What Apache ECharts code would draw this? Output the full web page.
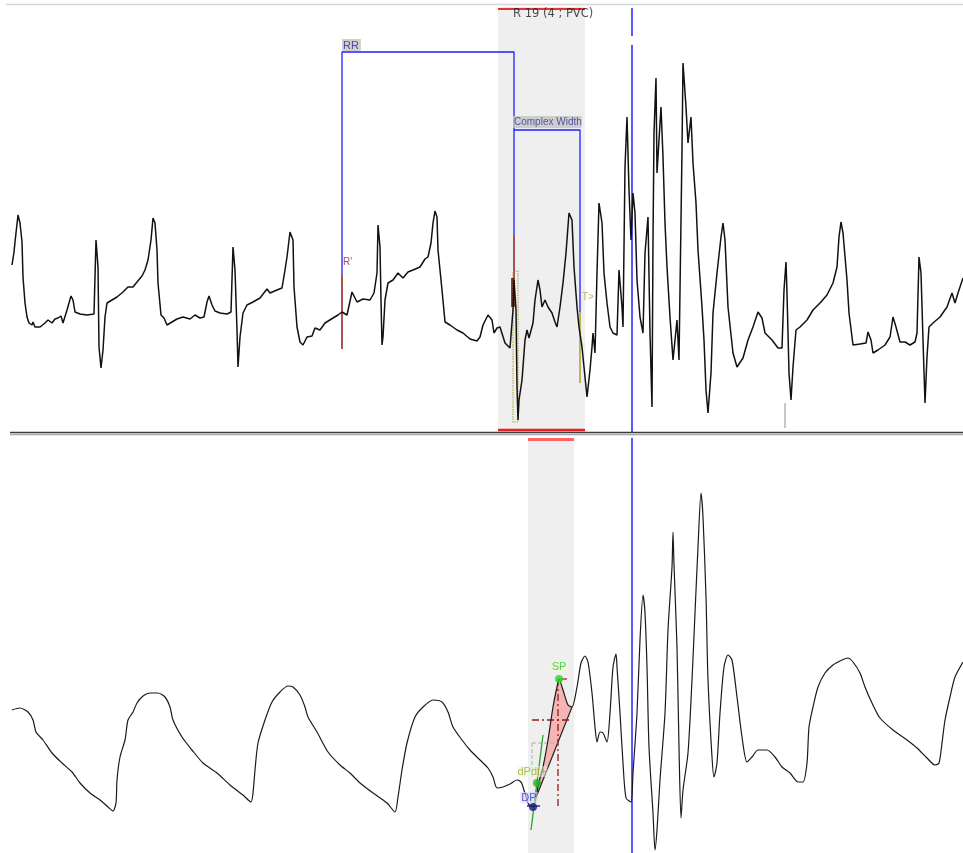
<!DOCTYPE html>
<html><head><meta charset="utf-8">
<script src="https://cdn.jsdelivr.net/npm/echarts@6/dist/echarts.min.js"></script>
<style>html,body{margin:0;padding:0;background:#fff}#c{width:963px;height:853px}</style>
</head><body><div id="c"></div>
<script>
// ---------- DATA ----------
// ECG lead: [sample index, mV]
const ecgTrace = [
[12,0.55],[14,0.68],[15,0.78],[18,1.05],[20,0.97],[22,0.78],[23,0.43],[25,0.17],[27,0.03],[29,-0.03],[32,-0.05],[33,-0.02],[35,-0.07],[37,-0.05],[40,-0.07],[45,-0.03],[48,0],[52,-0.03],[55,0.01],[58,0.02],[61,0.04],[63,-0.03],[67,0.10],[71,0.24],[73,0.20],[75,0.08],[80,0.06],[87,0.05],[94,0.06],
[96,0.80],[98,0.53],[99,-0.27],[101,-0.48],[103,-0.30],[105,0.03],[107,0.17],[112,0.20],[117,0.23],[123,0.28],[128,0.33],[133,0.33],[137,0.38],[142,0.44],[145,0.50],[148,0.60],[151,0.80],[153,1.02],[155,0.97],[157,0.70],[158,0.37],[161,0.05],[164,0.02],[167,-0.05],[172,-0.02],[177,0.01],[183,0.03],[190,0.01],[195,0.05],[200,0.02],[204,0.03],[207,0.18],[209,0.24],[212,0.15],[215,0.09],[220,0.07],[227,0.06],[231,0.08],
[233,0.73],[235,0.50],[237,-0.10],[238,-0.47],[240,-0.17],[243,0.07],[247,0.15],[253,0.18],[260,0.22],[267,0.31],[270,0.27],[277,0.30],[282,0.32],[285,0.50],[287,0.63],[290,0.88],[293,0.80],[294,0.33],[297,-0.07],[300,-0.22],[303,-0.25],[307,-0.17],[312,-0.16],[315,-0.08],[320,-0.10],[325,-0.03],[333,0.02],[338,0.05],[342,0.08],[347,0.05],[352,0.28],[357,0.18],[363,0.21],[370,0.20],[374,0.27],
[377,0.47],[378,0.95],[380,0.73],[381,0.20],[382,-0.25],[383,-0.17],[385,0.20],[388,0.37],[393,0.40],[398,0.47],[403,0.42],[408,0.48],[413,0.50],[420,0.53],[425,0.61],[428,0.63],[431,0.77],[433,0.97],[435,1.09],[437,1.03],[438,0.70],[442,0.30],[445,-0.02],[450,-0.05],[457,-0.10],[463,-0.13],[470,-0.19],[477,-0.21],[480,-0.17],[483,-0.05],[488,0.05],[492,0],[494,-0.13],[497,-0.08],[500,-0.07],[505,-0.23],[510,-0.28],
[513,0.10],[514,0.40],[516,0.10],[517,-0.67],[518,-1.00],[519,-0.80],[522,-0.60],[525,-0.20],[527,-0.10],[529,-0.18],[533,-0.03],[535,0.20],[538,0.40],[540,0.30],[542,0.13],[545,0.20],[548,0.13],[552,0.07],[555,-0.02],[557,-0.07],[560,0.13],[563,0.37],[566,0.67],[569,1.07],[572,1.00],[574,0.53],[577,0.13],[579,-0.07],[582,-0.27],[584,-0.47],[587,-0.77],[590,-0.50],[592,-0.27],[593,-0.13],[595,-0.33],
[597,0.47],[599,1.17],[602,0.97],[604,0.47],[607,0.17],[610,-0.07],[613,-0.13],[617,-0.15],[619,0.50],[622,0.13],[623,-0.07],[625,1.53],[627,2.03],[629,1.30],[631,0.80],[633,1.27],[635,1.07],[637,0.40],[640,0.03],[643,-0.13],[645,0.67],[648,1.03],[650,-0.13],[652,-0.87],[653,0.80],[654,1.87],[656,2.42],[657,1.47],[659,1.80],[661,2.13],[663,1.63],[665,0.97],[667,0.53],[670,0.03],[673,-0.40],[677,0],[679,-0.40],
[682,1.70],[683,2.57],[686,2.13],[688,1.77],[691,2.03],[693,1.57],[696,1.17],[698,0.70],[702,0.13],[704,-0.20],[706,-0.70],[708,-0.93],[711,-0.53],[713,0.07],[717,0.47],[721,0.83],[723,0.97],[725,0.80],[728,0.13],[733,-0.33],[737,-0.47],[743,-0.38],[748,-0.20],[753,-0.07],[758,0.08],[762,0.02],[765,-0.13],[772,-0.20],[778,-0.28],[782,-0.28],
[784,0.30],[786,0.58],[787,0.27],[789,-0.53],[791,-0.80],[793,-0.47],[796,-0.10],[800,-0.07],[807,0],[813,0.10],[820,0.17],[827,0.25],[833,0.37],[837,0.53],[839,0.83],[841,0.98],[843,0.87],[847,0.40],[849,0.07],[853,-0.25],[860,-0.24],[866,-0.23],[868,-0.12],[871,-0.20],[873,-0.33],[878,-0.30],[885,-0.25],[890,-0.17],[893,0.03],[896,-0.07],[900,-0.22],[905,-0.22],[910,-0.25],[915,-0.22],[917,-0.13],
[919,0.63],[921,0.47],[923,-0.20],[925,-0.83],[927,-0.37],[929,-0.07],[933,-0.03],[940,0.03],[947,0.13],[952,0.27],[955,0.17],[958,0.27],[963,0.42]
];
// Pressure: [sample index, mmHg]
const pressureTrace = [
[12,75],[20,76],[28,74],[33,70],[36,64],[43,60],[52,53.5],[62,48.5],[72,44],[80,38.5],[90,33.5],[100,30],[108,26.5],[113,24.5],[116,28.5],[117,40],[120,51.5],[125,60],[128,70],[133,74],[137,78.5],[143,82],[150,83.5],[158,83.5],[165,81.5],[170,76.5],[173,70],[182,61.5],[192,55],[203,48.5],[217,43.5],[230,37.5],[243,32.5],[251,29],
[253,33.5],[255,45],[258,58.5],[265,70],[272,79],[280,84],[288,87],[293,86.5],[300,82.5],[305,76.5],[308,71.5],[317,64],[328,54],[340,47.5],[350,43.5],[360,38.5],[373,33.5],[387,28.5],[395,24],
[398,31.5],[402,45],[407,58.5],[415,71.5],[423,76.5],[433,80],[442,79],[448,74],[453,66.5],[462,60],[470,55],[480,50],[488,46],[493,41.5],[497,36],[503,36.5],[510,38],[517,40],[521,39],[523,36.5],[527,30],[529,27.5],[533,26.5],
[536,31.5],[539,39],[543,46.5],[548,60],[553,76.5],[557,86.5],[559,90.5],[563,85],[568,77.5],[572,76.5],[577,86.5],[581,98.5],[585,102],[588,99],[592,83.5],[595,66.5],[597,59],[600,64],[603,63.5],[607,59],[610,73.5],[613,96.5],[616,103],[617,96.5],[620,73.5],[623,48.5],[626,31],[631,29],
[633,43.5],[637,73.5],[640,110],[643,132.5],[645,123.5],[647,96.5],[649,56.5],[653,23.5],[655,5],[657,15],[660,40],[665,73.5],[668,115],[672,146.5],[673,164],[674,147.5],[677,106.5],[679,56.5],[681,21],[683,35],[688,53.5],[692,90],[695,123.5],[698,156.5],[701,183.5],[703,171.5],[706,131.5],[708,90],[712,51.5],[714,41.5],[717,48.5],
[720,73.5],[724,96.5],[728,102.5],[732,100],[737,81.5],[742,61.5],[747,49],[752,51.5],[758,55],[767,55],[775,51.5],[782,46.5],[790,43.5],[798,39],[803,39],[807,48.5],[809,66.5],[813,76.5],[818,86.5],[825,93.5],[833,97.5],[842,100],[848,101],[853,99],[860,93.5],[865,86.5],[872,78.5],[880,71],[893,65],[907,60],[917,56],[927,51],[935,47.5],[939,48.5],[942,58.5],[945,70],[950,81.5],[955,91.5],[963,99]
];
// Beat annotation values
const rrStart = 342, rrEnd = 514, cwEnd = 580;
const rrLevel = 2.68, cwLevel = 1.90;
const pvcWindow = [498, 585];
const pressWindow = [528, 574];
const cursorSample = 632;
const artefactSample = 785;
const beatLabel = 'R 19 (4 ; PVC)';
// Pressure points (sample, mmHg)
const dpPoint = [533, 26.5];
const dpdtPoint = [537, 38.5];
const spPoint = [559, 90.5];
const slopeLine = [[531, 15], [543, 62.5]];
const pinkArea = [[535,30],[539,39],[543,46.5],[548,60],[553,76.5],[557,86.5],[559,90.5],[563,85],[568,77.5],[572,76.5]];
const midPressure = 70, halfWidthStart = 532, halfWidthEnd = 572;
const gateLevel = 58.5, gateFoot = 41.5;

// ---------- CHART ----------
const chart = echarts.init(document.getElementById('c'), null, {renderer: 'canvas'});
const FONT = 'Liberation Sans, Arial, sans-serif';
const BLUE = '#1f1fff', DRED = '#8e1b1b', OLIVE = '#aca22a';

function seg(g, pts, color, width, type, z) {
  return {type: 'line', xAxisIndex: g, yAxisIndex: g, data: pts, symbol: 'none', silent: true,
    lineStyle: {color: color, width: width, type: type || 'solid'}, z: z || 4, animation: false};
}
function lab(g, pt, text, opts, z) {
  return {type: 'scatter', xAxisIndex: g, yAxisIndex: g, symbolSize: 0, data: [pt], silent: true, z: z || 12,
    animation: false,
    label: Object.assign({show: true, formatter: text, fontFamily: FONT, fontSize: 11}, opts)};
}
function dot(g, pt, color, size) {
  return {type: 'scatter', xAxisIndex: g, yAxisIndex: g, symbolSize: size, data: [pt], silent: true, z: 11,
    itemStyle: {color: color}, animation: false};
}

const topMax = 3.13, topMin = -1.12;
const botMax = 211, botMin = 3.5;

const series = [
  // shading
  {type: 'line', xAxisIndex: 0, yAxisIndex: 0, data: [], z: 1, silent: true,
    markArea: {silent: true, itemStyle: {color: '#efefef'}, data: [[{xAxis: pvcWindow[0]}, {xAxis: pvcWindow[1]}]]}},
  {type: 'line', xAxisIndex: 1, yAxisIndex: 1, data: [], z: 1, silent: true,
    markArea: {silent: true, itemStyle: {color: '#efefef'}, data: [[{xAxis: pressWindow[0]}, {xAxis: pressWindow[1]}]]}},
  // red window borders
  seg(0, [[pvcWindow[0], 3.11], [pvcWindow[1], 3.11]], '#e63232', 1.8),
  seg(0, [[pvcWindow[0], -1.10], [pvcWindow[1], -1.10]], '#e82020', 2.5),
  seg(1, [[pressWindow[0], 210.3], [pressWindow[1], 210.3]], '#ff6464', 3),
  // RR bracket
  seg(0, [[rrStart, 0.45], [rrStart, rrLevel], [rrEnd, rrLevel], [rrEnd, 0.85]], BLUE, 1.3),
  seg(0, [[rrStart, -0.29], [rrStart, 0.45]], DRED, 1.5),
  seg(0, [[rrEnd, 0.85], [rrEnd, 0.42]], DRED, 1.5),
  seg(0, [[rrEnd - 1, 0.42], [rrEnd - 1, 0.13]], '#5a0e0e', 3.5),
  seg(0, [[513, 0.49], [518, 0.49], [518, -1.02], [513, -1.02], [513, 0.49]], OLIVE, 1.2, 'dotted'),
  // complex width bracket
  seg(0, [[rrEnd, cwLevel], [cwEnd, cwLevel], [cwEnd, 0.08]], BLUE, 1.3),
  seg(0, [[cwEnd, 0.08], [cwEnd, -0.63]], OLIVE, 1.5),
  // cursor
  seg(0, [[cursorSample, 3.12], [cursorSample, 2.84]], BLUE, 1.5),
  seg(0, [[cursorSample, 2.75], [cursorSample, topMin]], BLUE, 1.5),
  seg(1, [[cursorSample, botMax], [cursorSample, botMin]], BLUE, 1.5),
  // artefact tick
  seg(0, [[artefactSample, -0.83], [artefactSample, -1.08]], '#b4b4b4', 1.5),
  // pressure annotations
  {type: 'custom', xAxisIndex: 1, yAxisIndex: 1, data: [[0, 0]], silent: true, z: 3, clip: false,
    renderItem: function (params, api) {
      return {type: 'polygon', shape: {points: pinkArea.map(function (p) { return api.coord(p); })},
        style: {fill: 'rgba(250,160,160,0.75)'}};
    }},
  seg(1, [pinkArea[pinkArea.length - 1], pinkArea[0]], '#222', 1.2),
  seg(1, [[halfWidthStart, gateLevel], [spPoint[0] - 1, gateLevel]], '#b0b0b0', 1, 'dashed'),
  seg(1, [[halfWidthStart, gateLevel], [halfWidthStart, gateFoot]], '#b0b0b0', 1, 'dashed'),
  seg(1, [[halfWidthStart, midPressure], [halfWidthEnd, midPressure]], DRED, 1.3, [7, 3, 2, 3]),
  seg(1, [[spPoint[0] - 1, spPoint[1]], [spPoint[0] - 1, dpPoint[1]]], DRED, 1.3, [7, 3, 2, 3]),
  seg(1, slopeLine, '#2aa22a', 1.3, 'solid', 6),
  seg(1, [[spPoint[0], spPoint[1]], [spPoint[0] + 8, spPoint[1]]], '#d83030', 1.3, 'solid', 6),
  seg(1, [[dpPoint[0] - 6, dpPoint[1] + 0.5], [dpPoint[0] + 7, dpPoint[1] + 0.5]], '#2a2aa0', 1.3, 'solid', 6),
  // traces
  {type: 'line', xAxisIndex: 0, yAxisIndex: 0, data: ecgTrace, symbol: 'none', silent: true, z: 5,
    lineStyle: {color: '#111', width: 1.5}, animation: false},
  {type: 'line', xAxisIndex: 1, yAxisIndex: 1, data: pressureTrace, symbol: 'none', silent: true, z: 5,
    smooth: 0.25, lineStyle: {color: '#1a1a1a', width: 1.2}, animation: false},
  // dots
  dot(1, spPoint, '#22dd22', 8),
  dot(1, dpdtPoint, '#22b022', 8),
  dot(1, dpPoint, '#1a1a7a', 8),
  // labels
  lab(0, [pvcWindow[0] + 15, 3.06], beatLabel, {position: [0, 0], align: 'left', verticalAlign: 'middle', color: '#222',
    fontFamily: 'DejaVu Sans, Verdana, sans-serif', fontSize: 11.5}),
  lab(0, [rrStart, rrLevel], 'RR', {position: [0, -1], align: 'left', verticalAlign: 'bottom', color: '#2a2a8c',
    backgroundColor: '#c4c4c4', padding: [1, 2, 0, 1], fontSize: 11}),
  lab(0, [rrEnd - 1, cwLevel], 'Complex Width', {position: [0, -2], align: 'left', verticalAlign: 'bottom', color: '#34349a',
    backgroundColor: '#c4c4c4', padding: [1, 0, 1, 1], fontSize: 10}),
  lab(0, [rrStart + 1, 0.58], "R'", {position: [0, 0], align: 'left', verticalAlign: 'middle', color: '#7a2a3c', fontSize: 10}),
  lab(0, [cwEnd + 2, 0.23], 'T>', {position: [0, 0], align: 'left', verticalAlign: 'middle', color: OLIVE, fontSize: 10}),
  lab(1, spPoint, 'SP', {position: [0, -7], align: 'center', verticalAlign: 'bottom', color: '#2ec42e',
    backgroundColor: 'rgba(235,255,200,0.7)', padding: [0, 1], fontSize: 11}),
  lab(1, dpdtPoint, 'dPdt+', {position: [-5, -6], align: 'center', verticalAlign: 'bottom', color: '#aaa41c',
    backgroundColor: 'rgba(230,250,230,0.6)', padding: [0, 1], fontSize: 11}),
  lab(1, dpPoint, 'DP', {position: [-4, -4], align: 'center', verticalAlign: 'bottom', color: '#3434c8',
    backgroundColor: 'rgba(215,215,250,0.8)', padding: [0, 1], fontSize: 11})
];

chart.setOption({
  backgroundColor: '#ffffff',
  animation: false,
  grid: [
    {left: 0, right: 0, top: 7, height: 425, containLabel: false},
    {left: 0, right: 0, top: 438, height: 415, containLabel: false}
  ],
  xAxis: [
    {type: 'value', gridIndex: 0, min: 0, max: 963, show: false},
    {type: 'value', gridIndex: 1, min: 0, max: 963, show: false}
  ],
  yAxis: [
    {type: 'value', gridIndex: 0, min: topMin, max: topMax, show: false},
    {type: 'value', gridIndex: 1, min: botMin, max: botMax, show: false}
  ],
  graphic: [
    {type: 'line', shape: {x1: 6, y1: 4.5, x2: 963, y2: 4.5}, style: {stroke: '#d6d6d8', lineWidth: 1.5}, z: 100},
    {type: 'line', shape: {x1: 10, y1: 432.5, x2: 963, y2: 432.5}, style: {stroke: '#3c3c3c', lineWidth: 1.6}, z: 100},
    {type: 'line', shape: {x1: 10, y1: 434.5, x2: 963, y2: 434.5}, style: {stroke: '#a8a8b0', lineWidth: 1.6}, z: 100}
  ],
  series: series
});
</script>
</body></html>
